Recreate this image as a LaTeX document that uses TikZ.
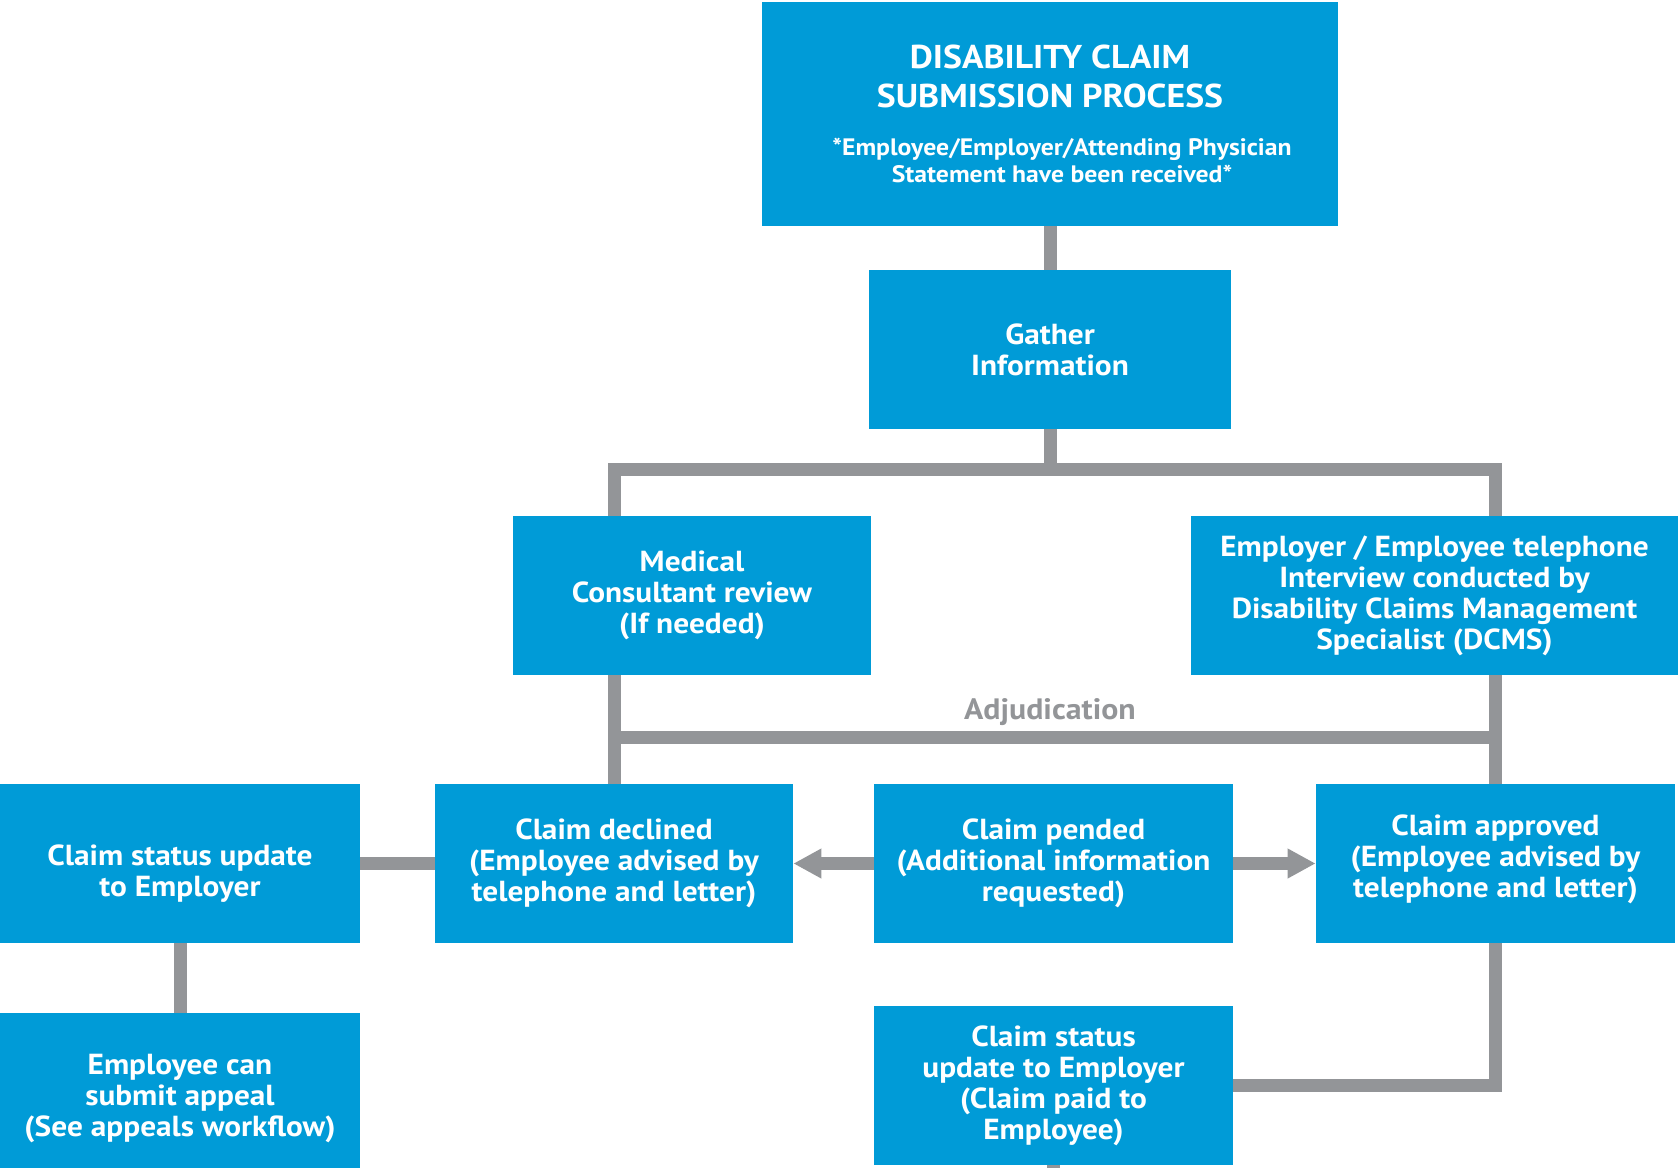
\documentclass[tikz,border=0pt]{standalone}
\usepackage{fontspec}
\setmainfont{PT Sans}[FakeStretch=1.08]
\usetikzlibrary{arrows.meta}
\definecolor{boxblue}{RGB}{0,155,215}
\definecolor{linegray}{RGB}{147,149,152}

\begin{document}
\begin{tikzpicture}[x=0.5pt,y=-0.5pt,
  box/.style={fill=boxblue, draw=none, text=white, align=center,
    font=\bfseries\fontsize{14.5}{15.5}\selectfont,
    inner sep=0pt, minimum height=79.5pt},
  conn/.style={draw=linegray, line width=6.5pt, line join=miter, line cap=butt},
  arr/.style={conn, -{Triangle[length=14pt,width=14pt]}},
  adjlabel/.style={text=linegray, font=\bfseries\fontsize{14.75}{15.5}\selectfont, inner sep=0pt}
]
\useasboundingbox (0,0) rectangle (1678,1168);

% boxes
\node[box, minimum width=288pt, minimum height=112pt] (top) at (1050,114)
  {\begin{minipage}{284pt}\centering
   \fontsize{16.5}{19.3}\selectfont DISABILITY CLAIM\\SUBMISSION PROCESS\par
   \vspace{11pt}
   \fontsize{11.9}{13.4}\selectfont \hspace*{12pt}*Employee/Employer/Attending Physician\\\hspace*{12pt}Statement have been received*\par
   \end{minipage}};
\node[box, minimum width=181pt] (gather) at (1050,349.5) {Gather\\Information};
\node[box, minimum width=179pt] (medical) at (692,595.5) {Medical\\Consultant review\\(If needed)};
\node[box, minimum width=243.5pt] (interview) at (1434.5,595.5)
  {Employer / Employee telephone\\Interview conducted by\\Disability Claims Management\\Specialist (DCMS)};
\node[box, minimum width=180pt] (status) at (180,863.5)
  {\rule{0pt}{20pt}Claim status update\\to Employer};
\node[box, minimum width=179pt] (declined) at (614,863.5)
  {Claim declined\\(Employee advised by\\telephone and letter)};
\node[box, minimum width=179.5pt] (pended) at (1053.5,863.5)
  {Claim pended\\(Additional information\\requested)};
\node[box, minimum width=179.5pt] (approved) at (1495.5,863.5)
  {Claim approved\\(Employee advised by\\telephone and letter)\rule[-7pt]{0pt}{7pt}};
\node[box, minimum width=180pt, minimum height=77.5pt] (appeal) at (180,1090.5)
  {\rule{0pt}{18pt}Employee can\\submit appeal\\(See appeals workflow)};
\node[box, minimum width=179.5pt] (paid) at (1053.5,1085.5)
  {Claim status\\update to Employer\\(Claim paid to\\Employee)};

% junction points
\coordinate (split) at (1050,469);
\coordinate (adj) at (1050,737);
\coordinate (stub) at (1050,1168);

\node[adjlabel] (adjtext) at (1050,712) {Adjudication};

% connectors
\draw[conn] (top.south) -- (gather.north);
\draw[conn] (gather.south) -- (split);
\draw[conn] (declined.north |- medical.north) |- (split) -| (approved.north |- interview.north);
\draw[conn] (declined.north |- medical.south) -- (declined.north);
\draw[conn] (approved.north |- interview.south) -- (approved.north);
\draw[conn] (declined.north |- adj) -- (approved.north |- adj);
\draw[conn] (status.east) -- (declined.west);
\draw[conn] (status.south) -- (appeal.north);
\draw[arr] (pended.west) -- (declined.east);
\draw[arr] (pended.east) -- (approved.west);
\draw[conn] (approved.south) |- (paid.east);
\draw[conn] (paid.south) -- (paid.south |- stub);
\end{tikzpicture}
\end{document}
